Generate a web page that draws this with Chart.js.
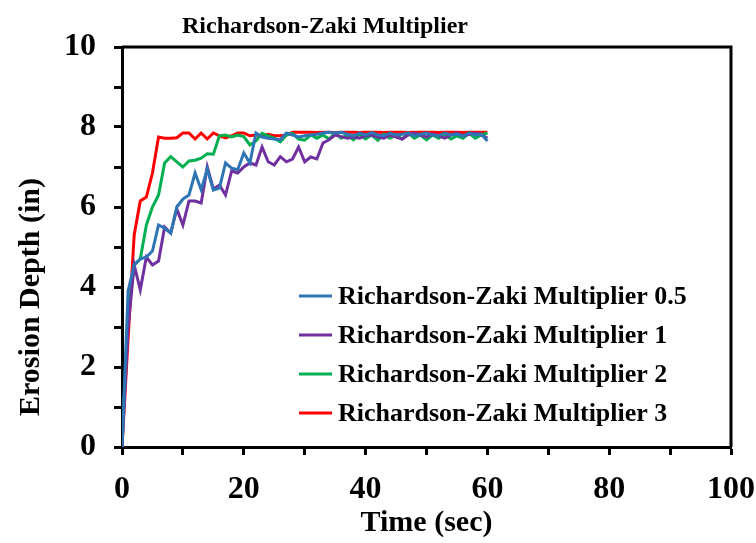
<!DOCTYPE html>
<html>
<head>
<meta charset="utf-8">
<script src="https://cdn.jsdelivr.net/npm/chart.js@4.4.1/dist/chart.umd.min.js"></script>
<style>
  html, body { margin: 0; padding: 0; background: #fff; }
  #wrap { width: 756px; height: 543px; }
</style>
</head>
<body>
<div id="wrap"><canvas id="chart" width="756" height="543"></canvas></div>
<script>
// --- Datos ---
const times = [
   0,  1,  2,  3,  4,  5,  6,  7,  8,  9, 10, 11, 12, 13, 14, 15, 16, 17, 18, 19, 20,
  21, 22, 23, 24, 25, 26, 27, 28, 29, 30, 31, 32, 33, 34, 35, 36, 37, 38, 39, 40,
  41, 42, 43, 44, 45, 46, 47, 48, 49, 50, 51, 52, 53, 54, 55, 56, 57, 58, 59, 60
];

const depthMult05 = [
  0, 3.9, 4.55, 4.7, 4.75, 4.9, 5.55, 5.47, 5.35, 6.0, 6.2, 6.3, 6.85, 6.43, 6.95, 6.42, 6.47, 7.1, 6.97, 6.93, 7.35,
  7.1, 7.85, 7.75, 7.72, 7.7, 7.68, 7.85, 7.8, 7.75, 7.78, 7.8, 7.82, 7.85, 7.87, 7.85, 7.87, 7.82, 7.78, 7.85, 7.8,
  7.86, 7.8, 7.78, 7.85, 7.8, 7.82, 7.85, 7.78, 7.82, 7.85, 7.8, 7.78, 7.85, 7.8, 7.82, 7.78, 7.85, 7.8, 7.82, 7.65
];

const depthMult1 = [
  0, 3.0, 4.55, 3.93, 4.75, 4.55, 4.65, 5.5, 5.35, 5.95, 5.55, 6.15, 6.15, 6.1, 7.0, 6.45, 6.55, 6.3, 6.9, 6.85, 7.0,
  7.1, 7.05, 7.5, 7.13, 7.05, 7.26, 7.13, 7.2, 7.5, 7.13, 7.25, 7.2, 7.6, 7.68, 7.8, 7.76, 7.72, 7.75, 7.72, 7.78,
  7.8, 7.75, 7.72, 7.8, 7.75, 7.7, 7.8, 7.85, 7.8, 7.75, 7.82, 7.78, 7.72, 7.8, 7.85, 7.78, 7.82, 7.85, 7.8, 7.72
];

const depthMult2 = [
  0, 3.3, 4.55, 4.7, 5.55, 6.0, 6.3, 7.1, 7.26, 7.13, 7.0, 7.15, 7.17, 7.22, 7.33, 7.32, 7.78, 7.8, 7.75, 7.8, 7.76,
  7.55, 7.65, 7.84, 7.78, 7.72, 7.63, 7.8, 7.84, 7.7, 7.67, 7.8, 7.72, 7.8, 7.7, 7.85, 7.72, 7.8, 7.68, 7.82, 7.7,
  7.8, 7.67, 7.82, 7.72, 7.8, 7.7, 7.85, 7.72, 7.8, 7.68, 7.8, 7.72, 7.82, 7.7, 7.78, 7.72, 7.85, 7.72, 7.8, 7.85
];

const depthMult3 = [
  0, 2.7, 5.3, 6.15, 6.25, 6.85, 7.75, 7.72, 7.72, 7.73, 7.85, 7.85, 7.7, 7.85, 7.7, 7.85, 7.78, 7.73, 7.78, 7.85, 7.85,
  7.78, 7.8, 7.78, 7.82, 7.78, 7.78, 7.8, 7.87, 7.87, 7.87, 7.87, 7.86, 7.87, 7.87, 7.86, 7.87, 7.87, 7.87, 7.86, 7.87,
  7.87, 7.87, 7.86, 7.87, 7.87, 7.87, 7.86, 7.87, 7.87, 7.87, 7.87, 7.86, 7.87, 7.87, 7.87, 7.86, 7.87, 7.87, 7.87, 7.87
];

const seriesLabels = [
  'Richardson-Zaki Multiplier 0.5',
  'Richardson-Zaki Multiplier 1',
  'Richardson-Zaki Multiplier 2',
  'Richardson-Zaki Multiplier 3'
];
const seriesColors = ['#2E75B6', '#7030A0', '#00B050', '#FF0000'];
const chartTitle = 'Richardson-Zaki Multiplier';
const yAxisTitle = 'Erosion Depth (in)';

const xTicks = [0, 20, 40, 60, 80, 100];
const yTicks = [0, 2, 4, 6, 8, 10];

const SERIF = '"Liberation Serif", "Times New Roman", serif';

const toPoints = (vals) => times.map((t, i) => ({ x: t, y: vals[i] }));

const datasets = [depthMult05, depthMult1, depthMult2, depthMult3].map((vals, i) => ({
  label: seriesLabels[i],
  data: toPoints(vals),
  borderColor: seriesColors[i],
  backgroundColor: seriesColors[i],
  borderWidth: 3,
  pointRadius: 0,
  tension: 0,
  fill: false
}));

// --- Título, marco, título del eje Y y leyenda dibujados a mano ---
const decorPlugin = {
  id: 'decor',
  afterDraw(chart) {
    const { ctx, chartArea: a } = chart;
    ctx.save();

    // marco superior y derecho
    ctx.strokeStyle = '#000';
    ctx.lineWidth = 3;
    ctx.beginPath();
    ctx.moveTo(a.left, a.top);
    ctx.lineTo(a.right, a.top);
    ctx.lineTo(a.right, a.bottom);
    ctx.stroke();

    // título
    ctx.fillStyle = '#000';
    ctx.font = 'bold 24px ' + SERIF;
    ctx.textAlign = 'center';
    ctx.textBaseline = 'alphabetic';
    ctx.fillText(chartTitle, 325, 33);

    // título del eje Y (girado)
    ctx.save();
    ctx.translate(31, 297);
    ctx.rotate(-Math.PI / 2);
    ctx.font = 'bold 30px ' + SERIF;
    ctx.textAlign = 'center';
    ctx.textBaseline = 'middle';
    ctx.fillText(yAxisTitle, 0, 0);
    ctx.restore();

    // leyenda
    ctx.font = 'bold 26px ' + SERIF;
    ctx.textAlign = 'left';
    ctx.textBaseline = 'middle';
    chart.data.datasets.forEach((ds, i) => {
      const y = 296 + i * 39;
      ctx.strokeStyle = ds.borderColor;
      ctx.lineWidth = 3;
      ctx.beginPath();
      ctx.moveTo(299, y);
      ctx.lineTo(332, y);
      ctx.stroke();
      ctx.fillStyle = '#000';
      ctx.fillText(ds.label, 338, y + 1);
    });

    ctx.restore();
  }
};

new Chart(document.getElementById('chart'), {
  type: 'line',
  data: { datasets },
  options: {
    responsive: false,
    animation: false,
    layout: { padding: { top: 47, right: 0, left: 0, bottom: 0 } },
    plugins: {
      legend: { display: false },
      title: { display: false },
      tooltip: { enabled: false }
    },
    scales: {
      x: {
        type: 'linear',
        min: 0,
        max: 100,
        border: { color: '#000', width: 3 },
        grid: {
          drawOnChartArea: false,
          drawTicks: true,
          tickLength: 8,
          tickWidth: 3,
          tickColor: '#000'
        },
        ticks: {
          stepSize: 10,
          autoSkip: false,
          maxRotation: 0,
          padding: 16,
          color: '#000',
          font: { family: SERIF, size: 32, weight: 'bold' },
          callback: (v) => xTicks.includes(v) ? String(v) : ''
        },
        title: {
          display: true,
          text: 'Time (sec)',
          color: '#000',
          padding: { top: 0, bottom: 2 },
          font: { family: SERIF, size: 30, weight: 'bold' }
        },
        afterFit: (scale) => {
          scale.height = 96;
          scale.paddingLeft = 0;
          scale.paddingRight = 25;
        }
      },
      y: {
        min: 0,
        max: 10,
        border: { color: '#000', width: 3 },
        grid: {
          drawOnChartArea: false,
          drawTicks: true,
          tickLength: 8,
          tickWidth: 3,
          tickColor: '#000'
        },
        ticks: {
          stepSize: 1,
          autoSkip: false,
          padding: 18,
          color: '#000',
          font: { family: SERIF, size: 32, weight: 'bold' },
          callback: (v) => yTicks.includes(v) ? String(v) : ''
        },
        afterFit: (scale) => { scale.width = 122; }
      }
    }
  },
  plugins: [decorPlugin]
});
</script>
</body>
</html>
